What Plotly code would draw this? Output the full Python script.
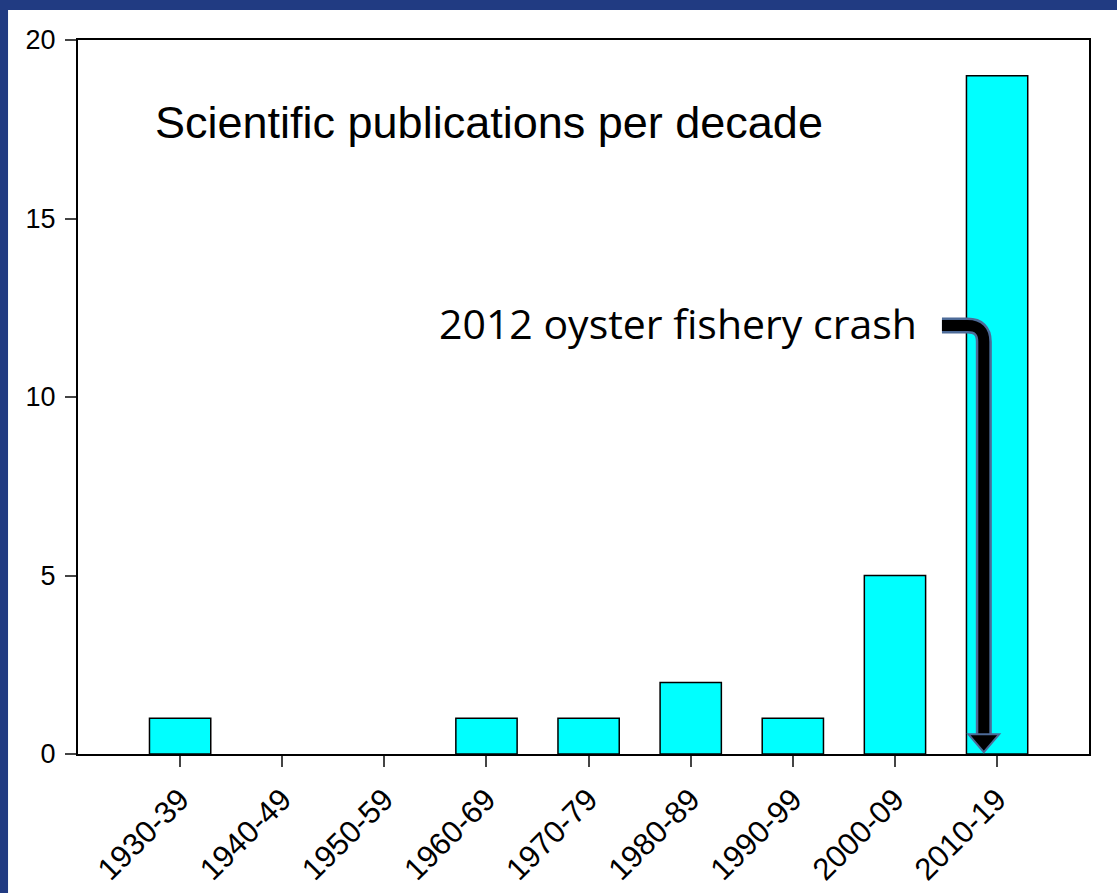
import plotly.graph_objects as go

decades = ["1930-39", "1940-49", "1950-59", "1960-69", "1970-79",
           "1980-89", "1990-99", "2000-09", "2010-19"]
publications = [1, 0, 0, 1, 1, 2, 1, 5, 19]
y_ticks = [0, 5, 10, 15, 20]

title_text = "Scientific publications per decade"
event_text = "2012 oyster fishery crash"
event_bar = 7.87   # arrow position (category index units)
event_level = 12   # arrow elbow height

fig = go.Figure()
fig.add_trace(go.Bar(
    x=list(range(len(decades))), y=publications, width=0.6,
    marker=dict(color="#00FFFF",
                line=dict(color="black", width=[1.5 if v > 0 else 0 for v in publications])),
))

fig.update_xaxes(
    range=[-1, 8.9], tickmode="array", tickvals=list(range(len(decades))),
    ticktext=decades, tickangle=-45, ticks="outside", ticklen=11, tickwidth=1.5,
    showline=True, linecolor="black", linewidth=2, mirror=True,
    showgrid=False, zeroline=False, ticklabelstandoff=2, automargin=False,
    tickfont=dict(family="Liberation Sans, Arial, sans-serif", size=31, color="black"),
)
fig.update_yaxes(
    range=[0, 20], tickvals=y_ticks, ticks="outside", ticklen=11, tickwidth=1.5,
    showline=True, linecolor="black", linewidth=2, mirror=True,
    showgrid=False, zeroline=False, ticklabelstandoff=4, automargin=False,
    tickfont=dict(family="Liberation Sans, Arial, sans-serif", size=27, color="black"),
)

shapes = []
# white slide panel
shapes.append(dict(type="rect", xref="paper", yref="paper", x0=-0.0692, x1=1.05,
                   y0=-0.25, y1=1.042, fillcolor="white", line=dict(width=0), layer="below"))
# bent arrow
x_start = event_bar - 0.41
x_bend = event_bar - 0.16
y_bend = event_level - 0.45
y_end = 0.55
path = (f"M {x_start},{event_level} L {x_bend},{event_level} "
        f"Q {event_bar},{event_level} {event_bar},{y_bend} L {event_bar},{y_end}")
shapes.append(dict(type="path", path=path, xref="x", yref="y",
                   line=dict(color="#4d6b98", width=16)))
shapes.append(dict(type="path", path=path, xref="x", yref="y",
                   line=dict(color="black", width=11)))
head = (f"M {event_bar-0.15},{y_end} L {event_bar+0.15},{y_end} "
        f"L {event_bar},0.05 Z")
shapes.append(dict(type="path", path=head, xref="x", yref="y",
                   fillcolor="black", line=dict(color="#4d6b98", width=2)))

fig.update_layout(
    width=1117, height=893,
    margin=dict(l=78, r=28, t=40, b=139),
    paper_bgcolor="#213b82", plot_bgcolor="white",
    showlegend=False, bargap=0.4,
    shapes=shapes,
    annotations=[
        dict(text=title_text, xref="paper", yref="paper", x=0.074, y=0.884,
             xanchor="left", yanchor="middle", showarrow=False,
             font=dict(family="Liberation Sans, Arial, sans-serif", size=45, color="black")),
        dict(text=event_text, xref="paper", yref="paper", x=0.832, y=0.603,
             xanchor="right", yanchor="middle", showarrow=False,
             font=dict(family="Open Sans, sans-serif", size=41, color="black")),
    ],
)

fig.write_html("out.html")
